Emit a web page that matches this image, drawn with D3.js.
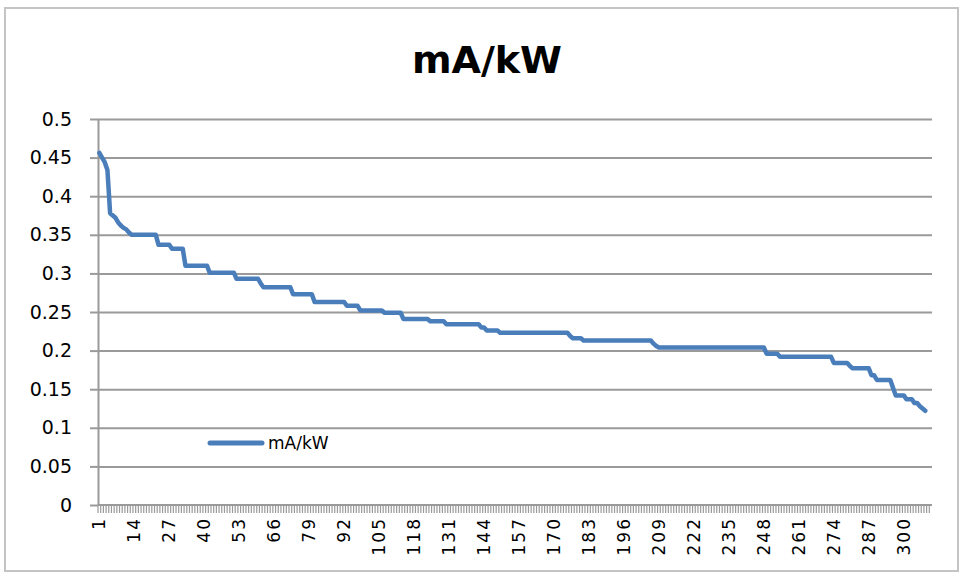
<!DOCTYPE html>
<html>
<head>
<meta charset="utf-8">
<script src="https://cdn.jsdelivr.net/npm/d3@7"></script>
<style>
  body { margin: 0; background: #fff; }
  svg { display: block; }
  .grid line { stroke: #9a9a9a; stroke-width: 2; }
  .grid path { display: none; }
  .axis path, .axis line { stroke: #9a9a9a; stroke-width: 2; }
  .axis text { font-family: "DejaVu Sans", sans-serif; fill: #000; }
</style>
</head>
<body>
<svg width="964" height="578"></svg>
<script>
'use strict';

var title = 'mA/kW';
var seriesName = 'mA/kW';

// category count on the x axis (1..310)
var categoryCount = 310;
var xLabels = [1, 14, 27, 40, 53, 66, 79, 92, 105, 118, 131, 144, 157, 170, 183,
    196, 209, 222, 235, 248, 261, 274, 287, 300];
var yTicks = [0, 0.05, 0.1, 0.15, 0.2, 0.25, 0.3, 0.35, 0.4, 0.45, 0.5];
var yLabels = ['0', '0.05', '0.1', '0.15', '0.2', '0.25', '0.3', '0.35', '0.4', '0.45', '0.5'];

// values, category 1 onward
var values = [
    0.456, 0.450, 0.444, 0.434, 0.378, 0.375, 0.372, 0.366, 0.362, 0.359, 0.357, 0.353,
    0.350, 0.350, 0.350, 0.350, 0.350, 0.350, 0.350, 0.350, 0.350, 0.350,
    0.337, 0.337, 0.337, 0.337, 0.337,
    0.332, 0.332, 0.332, 0.332, 0.332,
    0.310, 0.310, 0.310, 0.310, 0.310, 0.310, 0.310, 0.310, 0.310,
    0.301, 0.301, 0.301, 0.301, 0.301, 0.301, 0.301, 0.301, 0.301, 0.301,
    0.293, 0.293, 0.293, 0.293, 0.293, 0.293, 0.293, 0.293, 0.293,
    0.287,
    0.282, 0.282, 0.282, 0.282, 0.282, 0.282, 0.282, 0.282, 0.282, 0.282, 0.282,
    0.273, 0.273, 0.273, 0.273, 0.273, 0.273, 0.273, 0.273,
    0.263, 0.263, 0.263, 0.263, 0.263, 0.263, 0.263, 0.263, 0.263, 0.263, 0.263, 0.263,
    0.258, 0.258, 0.258, 0.258, 0.258,
    0.252, 0.252, 0.252, 0.252, 0.252, 0.252, 0.252, 0.252, 0.252,
    0.249, 0.249, 0.249, 0.249, 0.249, 0.249, 0.249,
    0.241, 0.241, 0.241, 0.241, 0.241, 0.241, 0.241, 0.241, 0.241, 0.241,
    0.238, 0.238, 0.238, 0.238, 0.238, 0.238,
    0.234, 0.234, 0.234, 0.234, 0.234, 0.234, 0.234, 0.234, 0.234, 0.234, 0.234, 0.234, 0.234,
    0.230, 0.230,
    0.226, 0.226, 0.226, 0.226, 0.226,
    0.223, 0.223, 0.223, 0.223, 0.223, 0.223, 0.223, 0.223, 0.223, 0.223, 0.223, 0.223, 0.223,
    0.223, 0.223, 0.223, 0.223, 0.223, 0.223, 0.223, 0.223, 0.223, 0.223, 0.223, 0.223, 0.223,
    0.219,
    0.216, 0.216, 0.216, 0.216,
    0.213, 0.213, 0.213, 0.213, 0.213, 0.213, 0.213, 0.213, 0.213, 0.213, 0.213, 0.213, 0.213,
    0.213, 0.213, 0.213, 0.213, 0.213, 0.213, 0.213, 0.213, 0.213, 0.213, 0.213, 0.213, 0.213,
    0.209, 0.206,
    0.204, 0.204, 0.204, 0.204, 0.204, 0.204, 0.204, 0.204, 0.204, 0.204,
    0.204, 0.204, 0.204, 0.204, 0.204, 0.204, 0.204, 0.204, 0.204, 0.204,
    0.204, 0.204, 0.204, 0.204, 0.204, 0.204, 0.204, 0.204, 0.204, 0.204,
    0.204, 0.204, 0.204, 0.204, 0.204, 0.204, 0.204, 0.204, 0.204, 0.204,
    0.196, 0.196, 0.196, 0.196, 0.196,
    0.192, 0.192, 0.192, 0.192, 0.192, 0.192, 0.192, 0.192, 0.192, 0.192,
    0.192, 0.192, 0.192, 0.192, 0.192, 0.192, 0.192, 0.192, 0.192, 0.192,
    0.184, 0.184, 0.184, 0.184, 0.184, 0.184,
    0.180,
    0.177, 0.177, 0.177, 0.177, 0.177, 0.177, 0.177,
    0.168, 0.168,
    0.162, 0.162, 0.162, 0.162, 0.162, 0.162,
    0.152,
    0.142, 0.142, 0.142, 0.142,
    0.137, 0.137, 0.137,
    0.132, 0.132,
    0.128, 0.125, 0.122
];

var svg = d3.select('svg');

// chart frame
svg.append('rect')
    .attr('x', 5).attr('y', 8)
    .attr('width', 953).attr('height', 563)
    .attr('fill', '#fff')
    .attr('stroke', '#c4c4c4')
    .attr('stroke-width', 2);

var plotLeft = 98, plotRight = 932, plotTop = 119, plotBottom = 505;

var categories = d3.range(1, categoryCount + 1);
var x = d3.scaleBand().domain(categories).range([plotLeft, plotRight]);
var y = d3.scaleLinear().domain([0, 0.5]).range([plotBottom, plotTop]);
var half = x.bandwidth() / 2;

// horizontal gridlines
svg.append('g')
    .attr('class', 'grid')
    .attr('transform', 'translate(' + plotLeft + ',0)')
    .call(d3.axisLeft(y).tickValues(yTicks.slice(1)).tickSize(-(plotRight - plotLeft)).tickFormat(''));

// y axis
var yAxis = svg.append('g')
    .attr('class', 'axis')
    .attr('transform', 'translate(' + plotLeft + ',0)')
    .call(d3.axisLeft(y).tickValues(yTicks).tickSize(8).tickSizeOuter(0)
        .tickFormat(function(d, i) { return yLabels[i]; }));
yAxis.selectAll('text')
    .attr('x', -26)
    .style('font-size', '19px');

// x axis: labels every 13 categories
var xAxis = svg.append('g')
    .attr('class', 'axis')
    .attr('transform', 'translate(0,' + plotBottom + ')')
    .call(d3.axisBottom(x).tickValues(xLabels).tickSize(0).tickSizeOuter(0));
xAxis.select('.domain').attr('d', 'M' + plotLeft + ',0H' + plotRight);
xAxis.selectAll('text')
    .attr('transform', 'rotate(-90)')
    .attr('x', -12)
    .attr('y', 0)
    .attr('dy', '0.35em')
    .style('text-anchor', 'end')
    .style('font-size', '17px')
    .style('letter-spacing', '2px');

// dense tick marks, one per category boundary
svg.append('g')
    .selectAll('line')
    .data(categories)
    .enter()
    .append('line')
    .attr('x1', function(d) { return x(d); })
    .attr('x2', function(d) { return x(d); })
    .attr('y1', plotBottom)
    .attr('y2', plotBottom + 8)
    .attr('stroke', '#9a9a9a')
    .attr('stroke-width', 1.2);

// series line
var line = d3.line()
    .x(function(d, i) { return x(categories[i]) + half; })
    .y(function(d) { return y(d); });

svg.append('path')
    .datum(values)
    .attr('d', line)
    .attr('fill', 'none')
    .attr('stroke', '#4a7ebb')
    .attr('stroke-width', 4.5)
    .attr('stroke-linejoin', 'round')
    .attr('stroke-linecap', 'round');

// title
svg.append('text')
    .attr('x', 487)
    .attr('y', 73)
    .attr('text-anchor', 'middle')
    .style('font-family', '"DejaVu Sans", sans-serif')
    .style('font-weight', 'bold')
    .style('font-size', '38px')
    .text(title);

// legend
var legend = svg.append('g').attr('transform', 'translate(208,443)');
legend.append('line')
    .attr('x1', 2).attr('x2', 54)
    .attr('stroke', '#4a7ebb')
    .attr('stroke-width', 5)
    .attr('stroke-linecap', 'round');
legend.append('text')
    .attr('x', 60)
    .attr('dy', '0.35em')
    .style('font-family', '"DejaVu Sans", sans-serif')
    .style('font-size', '17px')
    .text(seriesName);
</script>
</body>
</html>
